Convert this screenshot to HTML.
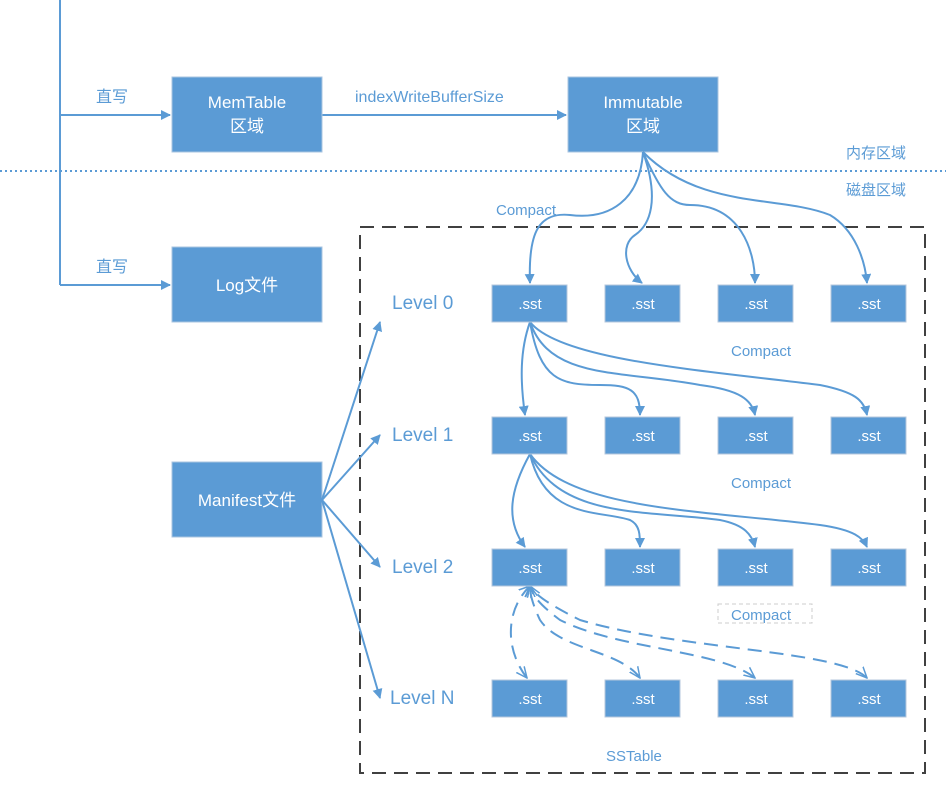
<!DOCTYPE html>
<html><head><meta charset="utf-8"><style>
body{margin:0;background:#fff;width:946px;height:784px;overflow:hidden}
text{font-family:"Liberation Sans","Noto Sans CJK SC",sans-serif}
</style></head><body>
<svg width="946" height="784" viewBox="0 0 946 784" xmlns="http://www.w3.org/2000/svg">
<defs>
<marker id="a" markerWidth="10" markerHeight="10" refX="9" refY="5" orient="auto" markerUnits="userSpaceOnUse">
<path d="M0,0 L10,5 L0,10 Z" fill="#5b9bd5"/></marker>
<marker id="o" markerWidth="12" markerHeight="12" refX="11" refY="6" orient="auto-start-reverse" markerUnits="userSpaceOnUse">
<path d="M0,1 L11,6 L0,11" fill="none" stroke="#5b9bd5" stroke-width="1.5"/></marker>
</defs>
<g stroke="#5b9bd5" stroke-width="2" fill="none">
<line x1="60" y1="0" x2="60" y2="285"/>
<line x1="60" y1="115" x2="170" y2="115" marker-end="url(#a)"/>
<line x1="60" y1="285" x2="170" y2="285" marker-end="url(#a)"/>
<line x1="322" y1="115" x2="566" y2="115" marker-end="url(#a)"/>
</g>
<line x1="0" y1="171" x2="946" y2="171" stroke="#5b9bd5" stroke-width="2" stroke-dasharray="2,3"/>
<rect x="360" y="227" width="565" height="546" fill="none" stroke="#404040" stroke-width="2" stroke-dasharray="14,8"/>
<g fill="#5b9bd5" stroke="#a9c4e0" stroke-width="1">
<rect x="172" y="77" width="150" height="75"/>
<rect x="568" y="77" width="150" height="75"/>
<rect x="172" y="247" width="150" height="75"/>
<rect x="172" y="462" width="150" height="75"/>
</g>
<g fill="#fff" font-size="17" text-anchor="middle">
<text x="247" y="108">MemTable</text><text x="247" y="132">区域</text>
<text x="643" y="108">Immutable</text><text x="643" y="132">区域</text>
<text x="247" y="291">Log文件</text>
<text x="247" y="506">Manifest文件</text>
</g>
<g fill="#5b9bd5" font-size="16">
<text x="96" y="102">直写</text><text x="96" y="272">直写</text>
<text x="355" y="102">indexWriteBufferSize</text>
<text x="846" y="158" font-size="15">内存区域</text>
<text x="846" y="195" font-size="15">磁盘区域</text>
<text x="496" y="215" font-size="15">Compact</text>
<text x="731" y="356" font-size="15">Compact</text>
<text x="731" y="488" font-size="15">Compact</text>
<text x="731" y="620" font-size="15">Compact</text>
<text x="606" y="761" font-size="15">SSTable</text>
<text x="392" y="309" font-size="19">Level 0</text>
<text x="392" y="441" font-size="19">Level 1</text>
<text x="392" y="573" font-size="19">Level 2</text>
<text x="390" y="704" font-size="19">Level N</text>
</g>
<rect x="718" y="604" width="94" height="19" fill="none" stroke="#ccc" stroke-dasharray="4,3"/>
<g stroke="#5b9bd5" stroke-width="2" fill="none" marker-end="url(#a)">
<line x1="322" y1="500" x2="380" y2="322"/>
<line x1="322" y1="500" x2="380" y2="435"/>
<line x1="322" y1="500" x2="380" y2="567"/>
<line x1="322" y1="500" x2="380" y2="698"/>
<path d="M643,152 C640,200 610,220 570,215 C540,212 528,230 530,283"/>
<path d="M643,152 C660,200 650,225 635,235 C620,245 625,270 642,283"/>
<path d="M643,152 C660,190 670,205 690,205 C740,205 755,250 755,283"/>
<path d="M643,152 C700,210 780,195 830,215 C855,230 865,260 867,283"/>
<path d="M530,322 C520,350 520,380 525,415"/>
<path d="M530,322 C540,380 560,385 600,385 C630,385 640,390 640,415"/>
<path d="M530,322 C550,380 620,370 700,385 C740,390 752,400 755,415"/>
<path d="M530,322 C560,360 700,370 820,385 C855,392 864,400 867,415"/>
<path d="M530,454 C510,490 505,520 525,547"/>
<path d="M530,454 C545,520 600,510 630,520 C640,525 640,535 640,547"/>
<path d="M530,454 C560,520 650,510 720,520 C745,525 752,535 755,547"/>
<path d="M530,454 C570,510 700,510 820,525 C855,530 863,538 867,547"/>
</g>
<g stroke="#5b9bd5" stroke-width="2" fill="none" stroke-dasharray="14,8">
<path d="M527,678 C505,650 505,610 530,586" marker-start="url(#o)" marker-end="url(#o)"/>
<path d="M640,678 C620,650 560,650 540,620 C533,605 530,595 530,586" marker-start="url(#o)" marker-end="url(#o)"/>
<path d="M755,678 C720,650 620,650 560,620 C540,605 532,595 530,586" marker-start="url(#o)" marker-end="url(#o)"/>
<path d="M867,678 C840,650 680,650 580,620 C550,605 535,595 530,586" marker-start="url(#o)" marker-end="url(#o)"/>
</g>
<g fill="#5b9bd5" stroke="#b4c7dc" stroke-width="1">
<rect x="492" y="285" width="75" height="37"/><rect x="605" y="285" width="75" height="37"/><rect x="718" y="285" width="75" height="37"/><rect x="831" y="285" width="75" height="37"/>
<rect x="492" y="417" width="75" height="37"/><rect x="605" y="417" width="75" height="37"/><rect x="718" y="417" width="75" height="37"/><rect x="831" y="417" width="75" height="37"/>
<rect x="492" y="549" width="75" height="37"/><rect x="605" y="549" width="75" height="37"/><rect x="718" y="549" width="75" height="37"/><rect x="831" y="549" width="75" height="37"/>
<rect x="492" y="680" width="75" height="37"/><rect x="605" y="680" width="75" height="37"/><rect x="718" y="680" width="75" height="37"/><rect x="831" y="680" width="75" height="37"/>
</g>
<g fill="#fff" font-size="15" text-anchor="middle">
<text x="530" y="309">.sst</text><text x="643" y="309">.sst</text><text x="756" y="309">.sst</text><text x="869" y="309">.sst</text>
<text x="530" y="441">.sst</text><text x="643" y="441">.sst</text><text x="756" y="441">.sst</text><text x="869" y="441">.sst</text>
<text x="530" y="573">.sst</text><text x="643" y="573">.sst</text><text x="756" y="573">.sst</text><text x="869" y="573">.sst</text>
<text x="530" y="704">.sst</text><text x="643" y="704">.sst</text><text x="756" y="704">.sst</text><text x="869" y="704">.sst</text>
</g>
</svg>
</body></html>
